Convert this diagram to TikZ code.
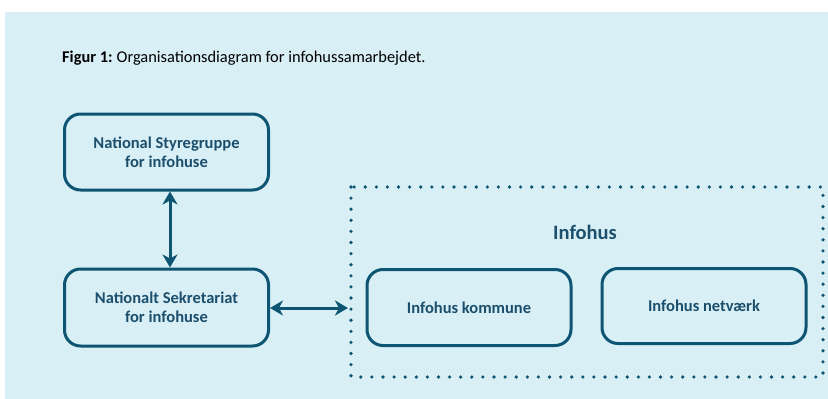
\documentclass[tikz,border=0pt]{standalone}
\usepackage{fontspec}
\setmainfont{Carlito}
\usetikzlibrary{arrows.meta}
\definecolor{bgblue}{HTML}{D9EFF6}
\definecolor{boxline}{HTML}{0E5573}
\definecolor{txtblue}{HTML}{1B4F6C}
\tikzset{
  orgbox/.style={draw=boxline, line width=3pt, rounded corners=16pt, fill=bgblue,
    text=txtblue, font=\fontsize{16.5}{19}\selectfont\bfseries, align=center, inner sep=0pt},
  link/.style={draw=boxline, line width=3pt, {Stealth[length=13pt,width=15pt,inset=4pt]}-{Stealth[length=13pt,width=15pt,inset=4pt]}},
}
\begin{document}
\begin{tikzpicture}[x=1pt,y=-1pt]
\useasboundingbox (0,0) rectangle (828,399);
\fill[white] (0,0) rectangle (828,399);
\fill[bgblue] (5,12) rectangle (828,399);
\node[anchor=west, inner sep=0pt, font=\fontsize{16.4}{19}\selectfont] (cap) at (62,58) {\textbf{Figur 1:}\hspace{-1pt} Organisationsdiagram for infohussamarbejdet.};
\draw[boxline, line width=3.6pt, line cap=round, dash pattern=on 0pt off 11.1pt] (351,187) rectangle (823,377);
\node[text=txtblue, font=\fontsize{20.5}{24}\selectfont\bfseries, inner sep=0pt] (infohus) at (585,232) {Infohus};
\node[orgbox, minimum width=204pt, minimum height=76pt] (styre) at (166.5,152) {National Styregruppe\\for infohuse};
\node[orgbox, minimum width=204pt, minimum height=77pt] (sekr) at (166.5,307.5) {Nationalt Sekretariat\\for infohuse};
\node[orgbox, minimum width=204pt, minimum height=76pt] (komm) at (469,307.5) {Infohus kommune};
\node[orgbox, minimum width=204pt, minimum height=75pt] (netv) at (704,306) {Infohus netværk};
\coordinate (dotleft) at (348,308);
\draw[link] (styre.south -| 170,0) -- (sekr.north -| 170,0);
\draw[link] (sekr.east |- dotleft) -- (dotleft);
\end{tikzpicture}
\end{document}
